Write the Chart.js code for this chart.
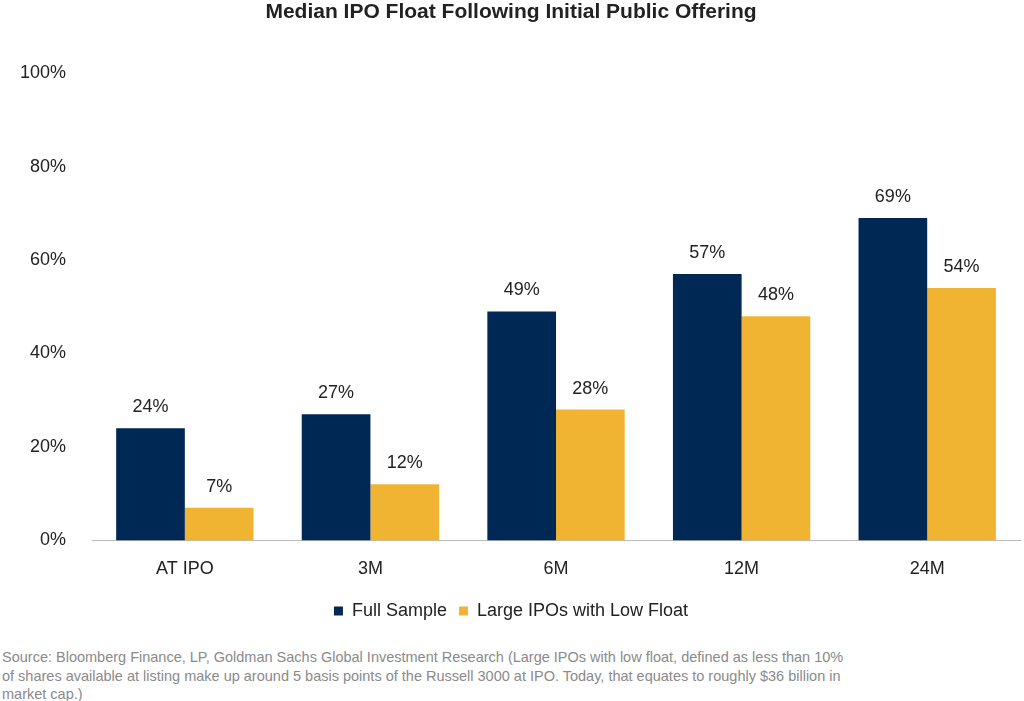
<!DOCTYPE html>
<html>
<head>
<meta charset="utf-8">
<script src="https://cdn.jsdelivr.net/npm/chart.js@4"></script>
<style>
  body { margin: 0; background: #fff; font-family: "Liberation Sans", Arial, sans-serif; }
  #wrap { position: relative; width: 1024px; height: 630px; }
  #source { position: absolute; left: 2px; top: 648px; width: 845px; color: #8a8a8a; font-size: 14.5px; line-height: 18.5px; }
</style>
</head>
<body>
<div id="wrap"><canvas id="chart"></canvas></div>
<div id="source">Source: Bloomberg Finance, LP, Goldman Sachs Global Investment Research (Large IPOs with low float, defined as less than 10% of shares available at listing make up around 5 basis points of the Russell 3000 at IPO. Today, that equates to roughly $36 billion in market cap.)</div>
<script>
const categories = ['AT IPO', '3M', '6M', '12M', '24M'];
const fullSample = [24, 27, 49, 57, 69];
const largeLowFloat = [7, 12, 28, 48, 54];

const valueLabels = {
  id: 'valueLabels',
  afterDatasetsDraw(chart) {
    const ctx = chart.ctx;
    ctx.save();
    ctx.font = '18px "Liberation Sans", Arial, sans-serif';
    ctx.fillStyle = '#222';
    ctx.textAlign = 'center';
    ctx.textBaseline = 'bottom';
    chart.data.datasets.forEach((ds, i) => {
      chart.getDatasetMeta(i).data.forEach((bar, j) => {
        ctx.fillText(ds.data[j] + '%', bar.x, bar.y - 12);
      });
    });
    ctx.restore();
  }
};

new Chart(document.getElementById('chart'), {
  type: 'bar',
  data: {
    labels: categories,
    datasets: [
      { label: 'Full Sample', data: fullSample, backgroundColor: '#002855' },
      { label: 'Large IPOs with Low Float', data: largeLowFloat, backgroundColor: '#F0B432' },
    ],
  },
  options: {
    responsive: true,
    maintainAspectRatio: false,
    animation: false,
    layout: { padding: { left: 2, right: 4, top: 0 } },
    datasets: { bar: { categoryPercentage: 0.74, barPercentage: 1 } },
    plugins: {
      title: {
        display: true,
        text: 'Median IPO Float Following Initial Public Offering',
        color: '#222',
        font: { family: '"Liberation Sans", Arial, sans-serif', size: 21, weight: 'bold' },
        padding: { top: 0, bottom: 48 },
      },
      legend: {
        position: 'bottom',
        labels: {
          color: '#222',
          font: { family: '"Liberation Sans", Arial, sans-serif', size: 18 },
          boxWidth: 9, boxHeight: 9, padding: 12,
        },
      },
      tooltip: { enabled: false },
    },
    scales: {
      x: {
        grid: { display: false },
        border: { color: '#bbb' },
        ticks: { color: '#222', font: { family: '"Liberation Sans", Arial, sans-serif', size: 18 }, padding: 10 },
      },
      y: {
        min: 0, max: 100,
        grid: { display: false },
        border: { display: false },
        ticks: {
          stepSize: 20, color: '#222', padding: 18,
          font: { family: '"Liberation Sans", Arial, sans-serif', size: 18 },
          callback: v => v + '%',
        },
      },
    },
  },
  plugins: [valueLabels],
});
</script>
</body>
</html>
